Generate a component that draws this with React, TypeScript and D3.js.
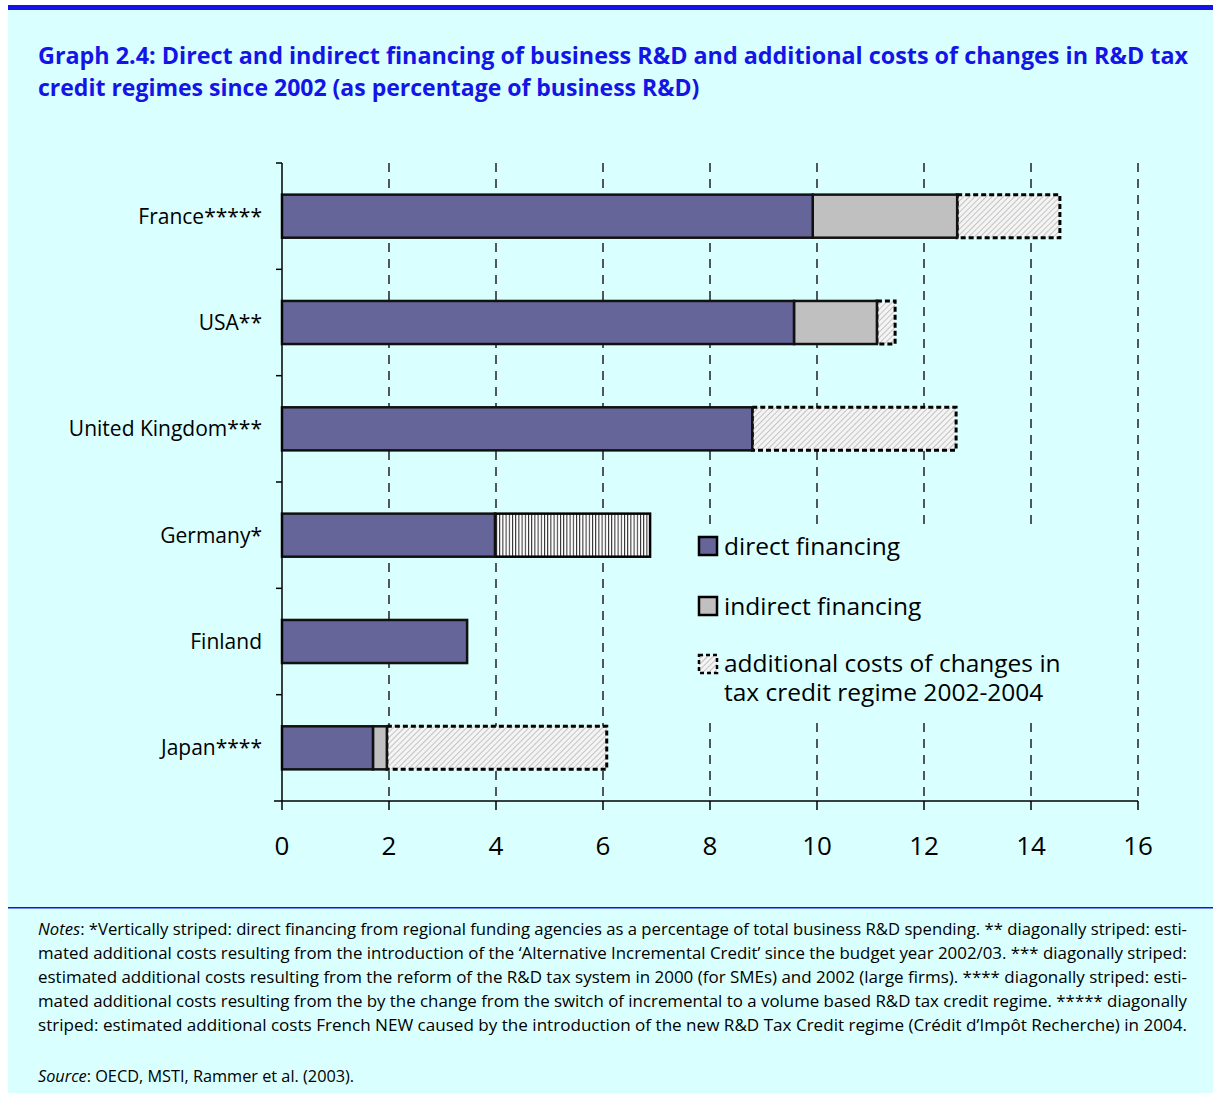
import React from "react";
import * as d3 from "d3";

const categories = ["France*****", "USA**", "United Kingdom***", "Germany*", "Finland", "Japan****"];
const directFin = [9.92, 9.57, 8.79, 3.98, 3.46, 1.70];
const regionalFin = [0, 0, 0, 2.90, 0, 0];
const indirectFin = [2.70, 1.55, 0, 0, 0, 0.26];
const additionalCost = [1.92, 0.34, 3.81, 0, 0, 4.11];
const xTicks = [0, 2, 4, 6, 8, 10, 12, 14, 16];

const titleLines = [
  "Graph 2.4: Direct and indirect financing of business R&D and additional costs of changes in R&D tax",
  "credit regimes since 2002 (as percentage of business R&D)",
];
const legendItems = ["direct financing", "indirect financing"];
const legendThird = ["additional costs of changes in", "tax credit regime 2002-2004"];
const noteLines = [
  "*Vertically striped: direct financing from regional funding agencies as a percentage of total business R&D spending. ** diagonally striped: esti-",
  "mated additional costs resulting from the introduction of the \u2018Alternative Incremental Credit\u2019 since the budget year 2002/03. *** diagonally striped:",
  "estimated additional costs resulting from the reform of the R&D tax system in 2000 (for SMEs) and 2002 (large firms). **** diagonally striped: esti-",
  "mated additional costs resulting from the by the change from the switch of incremental to a volume based R&D tax credit regime. ***** diagonally",
  "striped: estimated additional costs French NEW caused by the introduction of the new R&D Tax Credit regime (Cr\u00e9dit d\u2019Imp\u00f4t Recherche) in 2004.",
];

const FONT = "'Open Sans', 'Noto Sans', sans-serif";
const BLUE = "#1414e6";

export default function App() {
  const W = 1213, H = 1093;
  const x = d3.scaleLinear().domain([0, 16]).range([282, 1138]);
  const y = d3.scaleBand<string>().domain(categories).range([163, 801]).paddingInner(0.595).paddingOuter(0.2975);
  const step = y.step();
  const bh = y.bandwidth();
  const boundaries = d3.range(categories.length + 1).map((i) => 163 + i * step);

  return (
    <svg width={W} height={H} style={{ position: "absolute", left: 0, top: 0 }} fontFamily={FONT}>
      <defs>
        <pattern id="diag" patternUnits="userSpaceOnUse" width="4" height="4" patternTransform="rotate(45)">
          <rect width="4" height="4" fill="#f4f4f4" />
          <line x1="0" y1="0" x2="0" y2="4" stroke="#c4c4c4" strokeWidth="2" />
        </pattern>
        <pattern id="vert" patternUnits="userSpaceOnUse" width="3.2" height="4">
          <rect width="3.2" height="4" fill="#ffffff" />
          <line x1="0.5" y1="0" x2="0.5" y2="4" stroke="#222" strokeWidth="1" />
        </pattern>
      </defs>
      <rect x={0} y={0} width={W} height={H} fill="#ffffff" />
      <rect x={8} y={5} width={W - 8} height={H - 5} fill="#d9ffff" />
      <rect x={8} y={5} width={W - 8} height={5} fill={BLUE} />

      {titleLines.map((t, i) => (
        <text key={i} x={38} y={64 + i * 32} fontSize={23} fontWeight="bold" fill={BLUE}
          {...(i === 0 ? { textLength: 1150, lengthAdjust: "spacingAndGlyphs" } : {})}>{t}</text>
      ))}

      {/* gridlines */}
      {xTicks.slice(1).map((t) => (
        <line key={t} x1={x(t)} x2={x(t)} y1={163} y2={801} stroke="#222" strokeWidth={1.5} strokeDasharray="9,7" />
      ))}

      {/* legend background */}
      <rect x={690} y={526} width={400} height={190} fill="#d9ffff" />

      {/* bars */}
      {categories.map((c, i) => {
        const y0 = y(c)!;
        const d0 = 0, d1 = directFin[i];
        const r1 = d1 + regionalFin[i];
        const i1 = r1 + indirectFin[i];
        const a1 = i1 + additionalCost[i];
        return (
          <g key={c}>
            {additionalCost[i] > 0 && (
              <rect x={x(i1)} y={y0} width={x(a1) - x(i1)} height={bh} fill="url(#diag)" stroke="#000" strokeWidth={3} strokeDasharray="5,3" />
            )}
            {regionalFin[i] > 0 && (
              <rect x={x(d1)} y={y0} width={x(r1) - x(d1)} height={bh} fill="url(#vert)" stroke="#000" strokeWidth={2.5} />
            )}
            {indirectFin[i] > 0 && (
              <rect x={x(r1)} y={y0} width={x(i1) - x(r1)} height={bh} fill="#c0c0c0" stroke="#111" strokeWidth={2.5} />
            )}
            <rect x={x(d0)} y={y0} width={x(d1) - x(d0)} height={bh} fill="#65659a" stroke="#111" strokeWidth={2.5} />
            <text x={262} y={y0 + bh / 2} dy="0.35em" textAnchor="end" fontSize={21} fill="#000">{c}</text>
          </g>
        );
      })}

      {/* axes */}
      <line x1={282} x2={282} y1={163} y2={801} stroke="#000" strokeWidth={1.5} />
      {boundaries.slice(0, -1).map((b, i) => (
        <line key={i} x1={276} x2={282} y1={b} y2={b} stroke="#000" strokeWidth={1.5} />
      ))}
      <line x1={274} x2={1138} y1={801} y2={801} stroke="#000" strokeWidth={1.5} />
      {xTicks.map((t) => (
        <g key={t}>
          <line x1={x(t)} x2={x(t)} y1={801} y2={810} stroke="#000" strokeWidth={1.5} />
          <text x={x(t)} y={855} textAnchor="middle" fontSize={26} fill="#000">{t}</text>
        </g>
      ))}

      {/* legend */}
      <rect x={699} y={537} width={18} height={18} fill="#65659a" stroke="#000" strokeWidth={2.5} />
      <text x={724} y={555} fontSize={24.5} fill="#000">{legendItems[0]}</text>
      <rect x={699} y={597} width={18} height={18} fill="#c0c0c0" stroke="#000" strokeWidth={2.5} />
      <text x={724} y={615} fontSize={24.5} fill="#000">{legendItems[1]}</text>
      <rect x={699} y={655} width={18} height={18} fill="url(#diag)" stroke="#000" strokeWidth={2.5} strokeDasharray="4,3" />
      <text x={724} y={672} fontSize={24.5} fill="#000">{legendThird[0]}</text>
      <text x={724} y={701} fontSize={24.5} fill="#000">{legendThird[1]}</text>

      {/* separator & notes */}
      <rect x={8} y={907} width={W - 8} height={1.5} fill={BLUE} />
      {noteLines.map((t, i) => (
        <text key={i} x={38} y={935 + i * 24} fontSize={16.3} fill="#000" textLength={1149} lengthAdjust="spacingAndGlyphs">
          {i === 0 && <tspan fontStyle="italic">Notes</tspan>}
          {i === 0 && ": "}
          {t}
        </text>
      ))}
      <text x={38} y={1082} fontSize={16.3} fill="#000">
        <tspan fontStyle="italic">Source</tspan>: OECD, MSTI, Rammer et al. (2003).
      </text>
    </svg>
  );
}
